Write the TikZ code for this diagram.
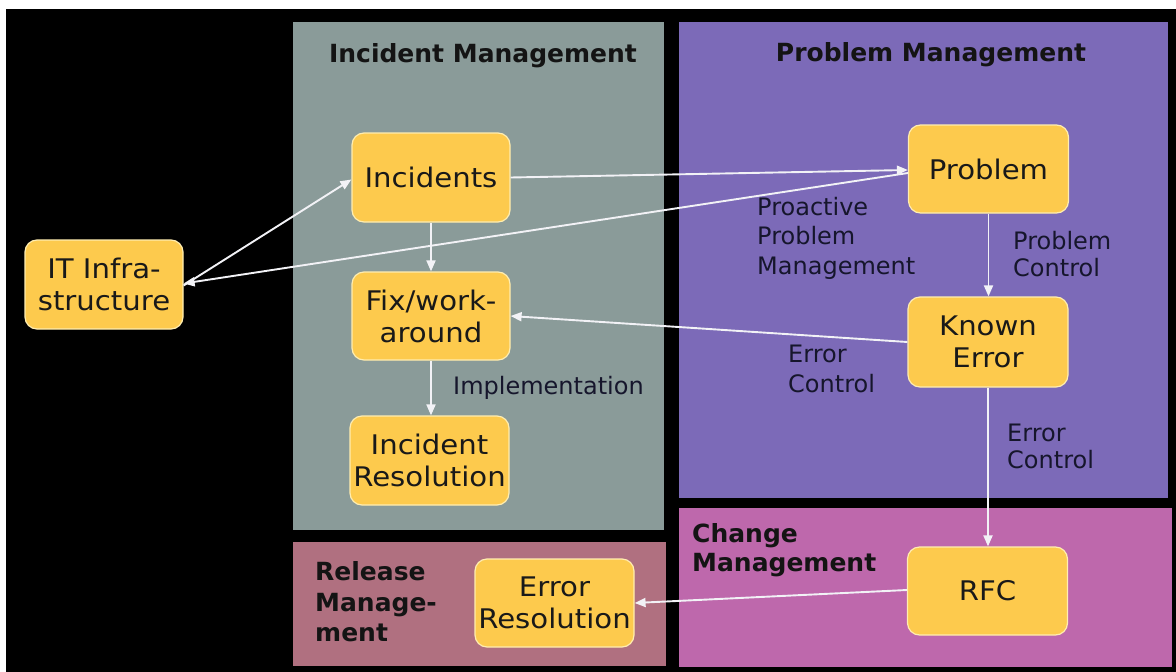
\documentclass[tikz,border=0pt]{standalone}
\usepackage{fontspec}
\setmainfont{DejaVu Sans}
\newfontfamily\boxfont[FakeStretch=1.08]{DejaVu Sans}
\usetikzlibrary{arrows.meta}

\definecolor{bgblack}{HTML}{000000}
\definecolor{incgray}{HTML}{8A9B99}
\definecolor{probpurple}{HTML}{7C6AB8}
\definecolor{chgmagenta}{HTML}{BE68AC}
\definecolor{relmauve}{HTML}{B07080}
\definecolor{boxyellow}{HTML}{FDCA4D}
\definecolor{boxedge}{HTML}{FFEDB0}
\definecolor{labelink}{HTML}{16162C}
\definecolor{flowline}{HTML}{F2F2F6}

\tikzset{
  x=1pt, y=-1pt,
  stepbox/.style={draw=boxedge, line width=1.2pt, fill=boxyellow,
    rounded corners=12pt, align=center, inner sep=0pt,
    text=black!90, font=\boxfont\fontsize{27}{32}\selectfont},
  flowlabel/.style={anchor=west, align=left, inner sep=0pt, text=labelink,
    font=\fontsize{24}{28}\selectfont},
  paneltitle/.style={inner sep=0pt, text=black!92,
    font=\bfseries\fontsize{25}{29}\selectfont},
  flow/.style={draw=flowline, line width=1.9pt,
    -{Stealth[length=11pt,width=9pt,inset=0pt]}},
}

\begin{document}
\begin{tikzpicture}
  \useasboundingbox (0,0) rectangle (1176,672);
  \fill[white] (0,0) rectangle (1176,672);
  \fill[bgblack] (6,9) rectangle (1176,672);

  % process areas
  \fill[incgray]    (293,22)  rectangle (664,530);
  \fill[probpurple] (679,22)  rectangle (1168,498);
  \fill[chgmagenta] (679,508) rectangle (1172,667);
  \fill[relmauve]   (293,542) rectangle (666,666);

  % area titles
  \node[paneltitle] (tinc)  at (483,56) {Incident Management};
  \node[paneltitle] (tprob) at (931,55) {Problem Management};
  \node[paneltitle, anchor=west, align=left, font=\bfseries\fontsize{25}{29}\selectfont]
    (tchg) at (692,550) {Change\\Management};
  \node[paneltitle, anchor=west, align=left, font=\bfseries\fontsize{25}{30.5}\selectfont]
    (trel) at (315,602) {Release\\Manage-\\ment};

  % process steps
  \node[stepbox, minimum width=158pt, minimum height=89pt] (inc)  at (431,177.5) {Incidents};
  \node[stepbox, minimum width=160pt, minimum height=88pt] (prob) at (988.5,169) {Problem};
  \node[stepbox, minimum width=158pt, minimum height=89pt] (it)   at (104,284.5) {IT Infra-\\structure};
  \node[stepbox, minimum width=158pt, minimum height=88pt] (fix)  at (431,316) {Fix/work-\\around};
  \node[stepbox, minimum width=160pt, minimum height=90pt] (ke)   at (988,342) {Known\\Error};
  \node[stepbox, minimum width=159pt, minimum height=89pt] (ires) at (429.5,460.5) {Incident\\Resolution};
  \node[stepbox, minimum width=160pt, minimum height=88pt] (rfc)  at (987.5,591) {RFC};
  \node[stepbox, minimum width=159pt, minimum height=88pt] (eres) at (554.5,603) {Error\\Resolution};

  % flow labels
  \node[flowlabel, font=\fontsize{24}{29.5}\selectfont] (lpro) at (757,238) {Proactive\\Problem\\Management};
  \node[flowlabel, font=\fontsize{24}{27}\selectfont] (lpc) at (1013,254) {Problem\\Control};
  \node[flowlabel, font=\fontsize{24}{30}\selectfont] (lec1) at (788,369) {Error\\Control};
  \node[flowlabel, font=\fontsize{24}{27}\selectfont] (lec2) at (1007,446) {Error\\Control};
  \node[flowlabel] (limp) at (453,388) {Implementation};

  % connectors
  \draw[flow] ([yshift=-1pt]it.east) -- ([yshift=-2pt]inc.west);
  \draw[flow] (inc.east) -- ([yshift=-1pt]prob.west);
  \draw[flow] ([yshift=-4pt]prob.west) -- ([yshift=1pt]it.east);
  \draw[flow] (inc.south) -- (inc.south |- fix.north);
  \draw[flow] (fix.south) -- (fix.south |- ires.north);
  \draw[flow] (prob.south) -- (prob.south |- ke.north);
  \draw[flow] (ke.south) -- (ke.south |- rfc.north);
  \draw[flow] (ke.west) -- (fix.east);
  \draw[flow] ([yshift=1pt]rfc.west) -- (eres.east);
\end{tikzpicture}
\end{document}
